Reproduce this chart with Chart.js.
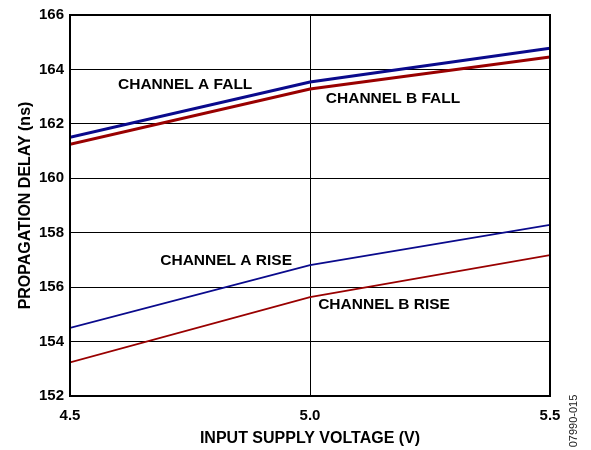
<!DOCTYPE html>
<html>
<head>
<meta charset="utf-8">
<script src="https://cdn.jsdelivr.net/npm/chart.js@4/dist/chart.umd.min.js"></script>
<style>
  html, body { margin: 0; padding: 0; background: #fff; }
  canvas { display: block; }
</style>
</head>
<body>
<canvas id="c" width="591" height="450"></canvas>
<script>
// ---- data ----
const voltages = [4.5, 5.0, 5.5];
const chAFall = [161.51, 163.54, 164.78];
const chBFall = [161.25, 163.28, 164.46];
const chARise = [154.50, 156.81, 158.29];
const chBRise = [153.23, 155.63, 157.18];

const seriesNames = ['CHANNEL A FALL', 'CHANNEL B FALL', 'CHANNEL A RISE', 'CHANNEL B RISE'];
// label anchor positions in data units (x = volts, y = ns)
const labelX = [4.60, 5.033, 4.688, 5.017];
const labelY = [163.44, 162.91, 156.98, 155.34];

const yTicksMin = 152, yTicksMax = 166, yStep = 2;
const xMin = 4.5, xMax = 5.5, xStep = 0.5;

const FONT = '"Liberation Sans", Arial, sans-serif';
const BLUE = '#0a0a8c';
const RED = '#990000';

const toXY = (ys) => ys.map((y, i) => ({ x: voltages[i], y }));

const labelsPlugin = {
  id: 'seriesLabels',
  afterDraw(chart) {
    const { ctx, chartArea, scales } = chart;
    ctx.save();
    // frame
    ctx.strokeStyle = '#000';
    ctx.lineWidth = 2;
    ctx.strokeRect(chartArea.left, chartArea.top, chartArea.right - chartArea.left, chartArea.bottom - chartArea.top);
    // series labels
    ctx.fillStyle = '#000';
    ctx.font = 'bold 15.5px ' + FONT;
    ctx.textAlign = 'left';
    ctx.textBaseline = 'middle';
    seriesNames.forEach((t, i) => {
      ctx.fillText(t, scales.x.getPixelForValue(labelX[i]), scales.y.getPixelForValue(labelY[i]));
    });
    // figure id
    ctx.font = '11px ' + FONT;
    ctx.fillStyle = '#222';
    ctx.translate(574, 421);
    ctx.rotate(-Math.PI / 2);
    ctx.textAlign = 'center';
    ctx.fillText('07990-015', 0, 0);
    ctx.restore();
  }
};

new Chart(document.getElementById('c'), {
  type: 'line',
  data: {
    datasets: [
      { label: seriesNames[2], data: toXY(chARise), borderColor: BLUE, borderWidth: 1.75 },
      { label: seriesNames[3], data: toXY(chBRise), borderColor: RED, borderWidth: 1.75 },
      { label: seriesNames[1], data: toXY(chBFall), borderColor: RED, borderWidth: 3 },
      { label: seriesNames[0], data: toXY(chAFall), borderColor: BLUE, borderWidth: 3 }
    ]
  },
  options: {
    responsive: false,
    animation: false,
    elements: { point: { radius: 0 }, line: { tension: 0 } },
    layout: { padding: { left: 0, top: 12, right: 41, bottom: 0 } },
    plugins: { legend: { display: false }, tooltip: { enabled: false } },
    scales: {
      x: {
        type: 'linear',
        min: xMin, max: xMax,
        afterFit(s) { s.height = 54; },
        ticks: {
          stepSize: xStep,
          color: '#000',
          font: { family: FONT, size: 15, weight: 'bold' },
          padding: 11,
          maxRotation: 0,
          callback: (v) => Number(v).toFixed(1)
        },
        grid: { color: '#000', lineWidth: 1, drawTicks: false },
        border: { color: '#000', width: 2 },
        title: {
          display: true,
          text: 'INPUT SUPPLY VOLTAGE (V)',
          color: '#000',
          font: { family: FONT, size: 16, weight: 'bold' },
          padding: { top: 0, bottom: 2 }
        }
      },
      y: {
        min: yTicksMin, max: yTicksMax,
        afterFit(s) { s.width = 70; },
        ticks: {
          stepSize: yStep,
          color: '#000',
          font: { family: FONT, size: 15, weight: 'bold' },
          padding: 6
        },
        grid: { color: '#000', lineWidth: 1, drawTicks: false },
        border: { color: '#000', width: 2 },
        title: {
          display: true,
          text: 'PROPAGATION DELAY (ns)',
          color: '#000',
          font: { family: FONT, size: 16, weight: 'bold' },
          padding: { top: 16, bottom: 0 }
        }
      }
    }
  },
  plugins: [labelsPlugin]
});
</script>
</body>
</html>
